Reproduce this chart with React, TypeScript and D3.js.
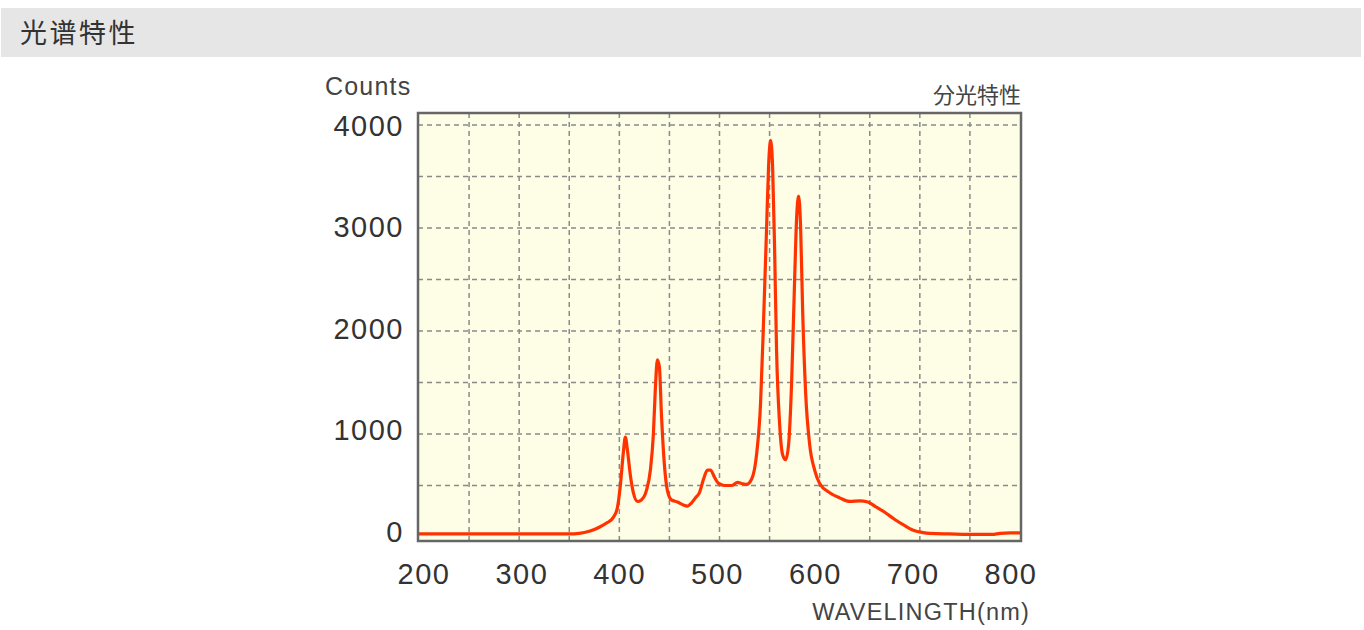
import React from "react";
import * as d3 from "d3";

const wavelengths = [200, 250, 300, 350, 360, 370, 380, 388, 394, 398, 401, 404, 406, 408, 411, 414, 418, 422, 427, 431, 434, 436, 438, 440, 442, 445, 448, 452, 458, 464, 468, 472, 476, 480, 484, 488, 491, 495, 499, 505, 512, 518, 522, 527, 532, 537, 541, 544, 547, 549, 551, 553, 555, 557, 560, 563, 566, 569, 572, 575, 577, 579, 581, 583, 586, 590, 595, 600, 610, 620, 630, 640, 648, 655, 665, 675, 685, 695, 702, 710, 730, 760, 772, 780, 790, 800];
const counts = [30, 30, 30, 30, 35, 55, 95, 140, 190, 280, 500, 820, 970, 850, 600, 430, 345, 360, 450, 650, 1000, 1450, 1720, 1650, 1200, 700, 450, 360, 340, 310, 300, 330, 380, 430, 560, 650, 650, 580, 520, 500, 500, 530, 520, 510, 560, 800, 1300, 2100, 3000, 3600, 3850, 3600, 2800, 1800, 1100, 800, 750, 900, 1500, 2500, 3100, 3310, 3000, 2200, 1400, 900, 650, 520, 430, 380, 345, 350, 340, 300, 240, 170, 110, 60, 45, 35, 30, 25, 25, 35, 40, 40];

const xTicks = [200, 300, 400, 500, 600, 700, 800];
const xGrid = [250, 300, 350, 400, 450, 500, 550, 600, 650, 700, 750];
const yTicks = [0, 1000, 2000, 3000, 4000];
const yGrid = [500, 1000, 1500, 2000, 2500, 3000, 3500, 4000];

const headerTitle = "光谱特性";
const chartTitle = "分光特性";
const yLabel = "Counts";
const xLabel = "WAVELINGTH(nm)";

export default function App() {
  const W = 1364, H = 630;
  const frame = { left: 418, right: 1021, top: 113, bottom: 541 };
  const x = d3.scaleLinear().domain([200, 800]).range([419, 1020]);
  const y = d3.scaleLinear().domain([0, 4000]).range([537, 125]);
  // label placement scales (labels are inset slightly from the grid positions)
  const xLab = d3.scaleLinear().domain([200, 800]).range([424, 1011]);
  const yLab = d3.scaleLinear().domain([0, 4000]).range([534, 128]);
  const pts = wavelengths.map((w, i) => [w, counts[i]] as [number, number]);
  const line = d3.line<[number, number]>()
    .x(d => x(d[0]))
    .y(d => y(d[1]))
    .curve(d3.curveMonotoneX);
  const sans = "'Liberation Sans', Arial, Helvetica, sans-serif";
  const cjk = "'Noto Sans CJK JP', 'Noto Sans CJK SC', sans-serif";
  return (
    <svg width={W} height={H} style={{ position: "absolute", left: 0, top: 0 }}>
      <rect x={1} y={8} width={1360} height={49} fill="#e6e6e6" />
      <text x={20} y={43} fontFamily={cjk} fontSize={27} fill="#333" letterSpacing={2.5}>{headerTitle}</text>

      <rect x={frame.left} y={frame.top} width={frame.right - frame.left} height={frame.bottom - frame.top} fill="#fefde6" />
      {xGrid.map(v => (
        <line key={"gx" + v} x1={x(v)} x2={x(v)} y1={frame.top} y2={frame.bottom} stroke="#8a8a8a" strokeWidth={1.5} strokeDasharray="5,4" />
      ))}
      {yGrid.map(v => (
        <line key={"gy" + v} x1={frame.left} x2={frame.right} y1={y(v)} y2={y(v)} stroke="#8a8a8a" strokeWidth={1.5} strokeDasharray="5,4" />
      ))}
      <path d={line(pts) || ""} fill="none" stroke="#ff3300" strokeWidth={3.2} strokeLinejoin="round" />
      <rect x={frame.left} y={frame.top} width={frame.right - frame.left} height={frame.bottom - frame.top} fill="none" stroke="#666" strokeWidth={2.5} />

      {yTicks.map(v => (
        <text key={"yt" + v} x={404} y={yLab(v)} fontFamily={sans} fontSize={29} fill="#333" textAnchor="end" dominantBaseline="middle" letterSpacing={1.5}>{v}</text>
      ))}
      {xTicks.map(v => (
        <text key={"xt" + v} x={xLab(v)} y={584} fontFamily={sans} fontSize={29} fill="#333" textAnchor="middle" letterSpacing={1.5}>{v}</text>
      ))}
      <text x={325} y={95} fontFamily={sans} fontSize={25} fill="#444" letterSpacing={1.2}>{yLabel}</text>
      <text x={1021} y={103} fontFamily={cjk} fontSize={22} fill="#444" textAnchor="end">{chartTitle}</text>
      <text x={1030} y={620} fontFamily={sans} fontSize={23.5} fill="#444" textAnchor="end" letterSpacing={1.2}>{xLabel}</text>
    </svg>
  );
}
